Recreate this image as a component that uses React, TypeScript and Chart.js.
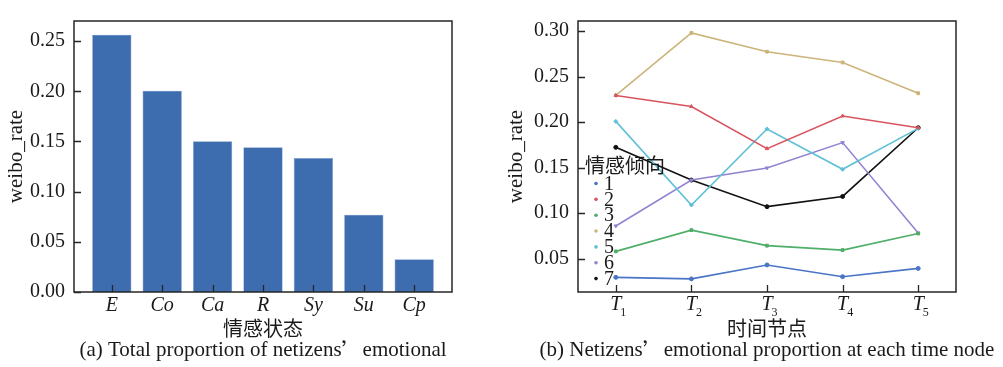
import React, { useEffect, useRef } from "react";
import { Chart, registerables } from "chart.js";
Chart.register(...registerables);

const SERIF = "'Liberation Serif', 'Times New Roman', serif";
const CJK = "'Noto Sans CJK SC', sans-serif";

// ---------- (a) bar chart data ----------
const barCategories = ["E", "Co", "Ca", "R", "Sy", "Su", "Cp"];
const barValues = [0.2564, 0.2006, 0.1502, 0.1442, 0.1334, 0.077, 0.0326];
const barYTicks = [0, 0.05, 0.1, 0.15, 0.2, 0.25];
const barCaption = ["(a) Total proportion of netizens", "’", "emotional"];

// ---------- (b) line chart data ----------
const timeNodes = ["1", "2", "3", "4", "5"];
const lineLabels = ["1", "2", "3", "4", "5", "6", "7"];
const series1 = [0.0296, 0.0279, 0.0432, 0.0303, 0.0394];
const series2 = [0.2293, 0.2171, 0.1709, 0.2067, 0.1938];
const series3 = [0.0581, 0.0814, 0.0644, 0.0595, 0.0777];
const series4 = [0.2293, 0.2979, 0.2773, 0.2655, 0.2317];
const series5 = [0.2008, 0.109, 0.1925, 0.1482, 0.1931];
const series6 = [0.086, 0.1364, 0.1497, 0.1775, 0.0783];
const series7 = [0.1723, 0.1364, 0.1072, 0.1184, 0.1938];
const lineSeries = [series1, series2, series3, series4, series5, series6, series7];
const lineColors = ["#4a74c6", "#d9545e", "#4fae68", "#ccb47a", "#5fc0d6", "#9283d2", "#111111"];
const lineMarkers = ["circle", "triangle", "rect", "rect", "rectRot", "triangle", "circle"];
const lineMarkerRot = [0, 0, 0, 0, 0, 180, 0];
const lineYTicks = [0.05, 0.1, 0.15, 0.2, 0.25, 0.3];
const lineCaption = ["(b) Netizens", "’", "emotional proportion at each time node"];

const framePlugin = {
  id: "frame",
  afterDraw(chart: any) {
    const { ctx, chartArea: a } = chart;
    const xs = chart.scales.x;
    const ys = chart.scales.y;
    ctx.save();
    ctx.strokeStyle = "#262626";
    ctx.lineWidth = 1.5;
    ctx.strokeRect(a.left, a.top, a.right - a.left, a.bottom - a.top);
    ctx.lineWidth = 1.3;
    ctx.beginPath();
    ys.ticks.forEach((t: any) => {
      const py = Math.round(ys.getPixelForValue(t.value)) + 0.5;
      ctx.moveTo(a.left, py);
      ctx.lineTo(a.left + 7, py);
    });
    xs.ticks.forEach((t: any) => {
      const px = Math.round(xs.getPixelForValue(t.value)) + 0.5;
      ctx.moveTo(px, a.bottom);
      ctx.lineTo(px, a.bottom - 7);
    });
    ctx.stroke();
    ctx.restore();
  },
};

// caption under the chart: [before quote, quote (full width), after quote]
const captionPlugin = {
  id: "caption",
  afterDraw(chart: any, _args: any, opts: any) {
    const parts: string[] = opts.parts;
    if (!parts) return;
    const { ctx, chartArea: a } = chart;
    ctx.save();
    ctx.fillStyle = "#1a1a1a";
    ctx.textBaseline = "middle";
    ctx.textAlign = "left";
    const fonts = [`21px ${SERIF}`, `21px ${CJK}`, `21px ${SERIF}`];
    const widths = parts.map((p, i) => {
      ctx.font = fonts[i];
      return ctx.measureText(p).width;
    });
    const total = widths.reduce((s, w) => s + w, 0);
    let x = (a.left + a.right) / 2 - total / 2;
    parts.forEach((p, i) => {
      ctx.font = fonts[i];
      ctx.fillText(p, x, opts.y);
      x += widths[i];
    });
    ctx.restore();
  },
};

const timeLabelPlugin = {
  id: "timeLabels",
  afterDraw(chart: any) {
    const { ctx, chartArea: a } = chart;
    const xs = chart.scales.x;
    ctx.save();
    ctx.fillStyle = "#1a1a1a";
    timeNodes.forEach((n, i) => {
      const px = xs.getPixelForValue(i);
      ctx.font = `italic 20px ${SERIF}`;
      ctx.textAlign = "center";
      ctx.textBaseline = "alphabetic";
      ctx.fillText("T", px, a.bottom + 18);
      const w = ctx.measureText("T").width;
      ctx.font = `12px ${SERIF}`;
      ctx.textAlign = "left";
      ctx.fillText(n, px + w / 2 - 1, a.bottom + 24);
    });
    ctx.restore();
  },
};

const legendPlugin = {
  id: "customLegend",
  afterDraw(chart: any) {
    const { ctx, chartArea: a } = chart;
    ctx.save();
    ctx.fillStyle = "#1a1a1a";
    ctx.font = `20px ${CJK}`;
    ctx.textAlign = "left";
    ctx.textBaseline = "middle";
    const lx = a.left + 7;
    ctx.fillText("情感倾向", lx, 165);
    chart.data.datasets.forEach((ds: any, i: number) => {
      const y = 183.5 + i * 15.85;
      ctx.fillStyle = ds.borderColor;
      ctx.beginPath();
      ctx.arc(lx + 11, y, 1.8, 0, Math.PI * 2);
      ctx.fill();
      ctx.fillStyle = "#1a1a1a";
      ctx.font = `20px ${SERIF}`;
      ctx.fillText(ds.label, lx + 19, y + 1);
    });
    ctx.restore();
  },
};

function BarPanel() {
  const ref = useRef<HTMLCanvasElement>(null);
  useEffect(() => {
    const chart = new Chart(ref.current!, {
      type: "bar",
      data: {
        datasets: [
          {
            data: barValues.map((v, i) => ({ x: i, y: v })),
            backgroundColor: "#3e6daf",
            borderColor: "#7c9ccc",
            borderWidth: 0.6,
            barPercentage: 0.78,
            categoryPercentage: 1,
          },
        ],
      },
      options: {
        responsive: false,
        animation: false,
        events: [],
        layout: { padding: { top: 8, right: 48, left: 0, bottom: 29 } },
        plugins: {
          legend: { display: false },
          tooltip: { enabled: false },
          caption: { parts: barCaption, y: 350 },
        },
        scales: {
          x: {
            type: "linear",
            offset: false,
            min: -0.75,
            max: 6.75,
            grid: { display: false, drawTicks: false },
            border: { display: false },
            afterBuildTicks: (axis: any) => {
              axis.ticks = barCategories.map((_, i) => ({ value: i }));
            },
            afterFit: (axis: any) => {
              axis.height = 46;
            },
            ticks: {
              padding: 2,
              color: "#1a1a1a",
              font: { family: SERIF, size: 20, style: "italic" },
              callback: (v: any) => barCategories[v as number] ?? "",
              maxRotation: 0,
              autoSkip: false,
            },
            title: {
              display: true,
              text: "情感状态",
              color: "#1a1a1a",
              font: { family: CJK, size: 20, lineHeight: 1 },
              padding: { top: 0, bottom: 0 },
            },
          },
          y: {
            min: 0,
            max: 0.27,
            grid: { display: false, drawTicks: false },
            border: { display: false },
            afterBuildTicks: (axis: any) => {
              axis.ticks = barYTicks.map((v) => ({ value: v }));
            },
            afterFit: (axis: any) => {
              axis.width = 74;
            },
            ticks: {
              padding: 9,
              color: "#1a1a1a",
              font: { family: SERIF, size: 20 },
              callback: (v: any) => Number(v).toFixed(2),
            },
            title: {
              display: true,
              text: "weibo_rate",
              color: "#1a1a1a",
              font: { family: SERIF, size: 21 },
            },
          },
        },
      },
      plugins: [framePlugin, captionPlugin],
    } as any);
    return () => chart.destroy();
  }, []);
  return <canvas ref={ref} width={500} height={367} />;
}

function LinePanel() {
  const ref = useRef<HTMLCanvasElement>(null);
  useEffect(() => {
    const chart = new Chart(ref.current!, {
      type: "line",
      data: {
        labels: timeNodes.map((n) => "T" + n),
        datasets: lineSeries.map((s, i) => ({
          label: lineLabels[i],
          data: s,
          borderColor: lineColors[i],
          backgroundColor: lineColors[i],
          borderWidth: 1.6,
          pointStyle: lineMarkers[i],
          pointRotation: lineMarkerRot[i],
          pointRadius: 2,
          pointBorderWidth: 1,
          tension: 0,
          fill: false,
        })),
      },
      options: {
        responsive: false,
        animation: false,
        events: [],
        layout: { padding: { top: 8, right: 47, left: 0, bottom: 29 } },
        plugins: {
          legend: { display: false },
          tooltip: { enabled: false },
          caption: { parts: lineCaption, y: 350 },
        },
        scales: {
          x: {
            type: "category",
            offset: true,
            grid: { display: false, offset: false, drawTicks: false },
            border: { display: false },
            afterFit: (axis: any) => {
              axis.height = 46;
            },
            ticks: { display: false },
            title: {
              display: true,
              text: "时间节点",
              color: "#1a1a1a",
              font: { family: CJK, size: 20, lineHeight: 1 },
              padding: { top: 0, bottom: 0 },
            },
          },
          y: {
            min: 0.0135,
            max: 0.311,
            grid: { display: false, drawTicks: false },
            border: { display: false },
            afterBuildTicks: (axis: any) => {
              axis.ticks = lineYTicks.map((v) => ({ value: v }));
            },
            afterFit: (axis: any) => {
              axis.width = 78;
            },
            ticks: {
              padding: 9,
              color: "#1a1a1a",
              font: { family: SERIF, size: 20 },
              callback: (v: any) => Number(v).toFixed(2),
            },
            title: {
              display: true,
              text: "weibo_rate",
              color: "#1a1a1a",
              font: { family: SERIF, size: 21 },
            },
          },
        },
      },
      plugins: [framePlugin, timeLabelPlugin, legendPlugin, captionPlugin],
    } as any);
    return () => chart.destroy();
  }, []);
  return <canvas ref={ref} width={503} height={367} />;
}

export default function App() {
  return (
    <div
      style={{
        position: "absolute",
        left: 0,
        top: 0,
        width: 1003,
        height: 367,
        background: "#ffffff",
        overflow: "hidden",
      }}
    >
      <div style={{ position: "absolute", left: 0, top: 0, width: 500, height: 367 }}>
        <BarPanel />
      </div>
      <div style={{ position: "absolute", left: 500, top: 0, width: 503, height: 367 }}>
        <LinePanel />
      </div>
    </div>
  );
}
